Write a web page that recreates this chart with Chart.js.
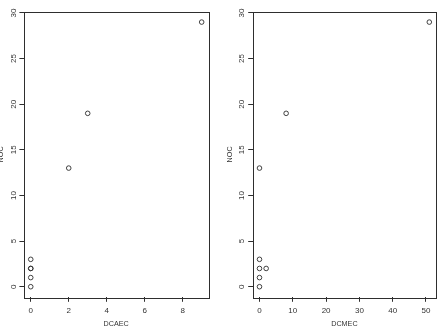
<!DOCTYPE html>
<html>
<head>
<meta charset="utf-8">
<script src="https://cdn.jsdelivr.net/npm/chart.js@4/dist/chart.umd.min.js"></script>
<style>
  html, body { margin: 0; padding: 0; background: #fff; }
  #wrap { position: relative; width: 441px; height: 327px; overflow: hidden; }
  canvas { position: absolute; top: 0; }
</style>
</head>
<body>
<div id="wrap">
  <canvas id="left" width="220" height="327" style="left:0"></canvas>
  <canvas id="right" width="221" height="327" style="left:220px"></canvas>
</div>
<script>
// datos
const noc   = [0, 1, 2, 3, 2, 13, 19, 29];
const dcaec = [0, 0, 0, 0, 0, 2, 3, 9];
const dcmec = [0, 0, 0, 0, 2, 0, 8, 51];

const yTicks      = [0, 5, 10, 15, 20, 25, 30];
const dcaecTicks  = [0, 2, 4, 6, 8];
const dcmecTicks  = [0, 10, 20, 30, 40, 50];

const ink = '#2e2e2e';
const fuente = 'Liberation Sans, Arial, Helvetica, sans-serif';

// rango al estilo R (4% a cada lado)
function rango(vals) {
  const lo = Math.min(...vals), hi = Math.max(...vals);
  const d = (hi - lo) * 0.04;
  return [lo - d, hi + d];
}

// caja alrededor del area del grafico
const caja = {
  id: 'caja',
  afterDraw(chart) {
    const a = chart.chartArea, ctx = chart.ctx;
    ctx.save();
    ctx.strokeStyle = ink;
    ctx.lineWidth = 1;
    ctx.strokeRect(Math.round(a.left) + 0.5, Math.round(a.top) + 0.5,
      Math.round(a.right - a.left), Math.round(a.bottom - a.top));
    ctx.restore();
  }
};

function dibujar(id, xs, xTicks, xTitulo, opts) {
  const [xmin, xmax] = rango(xs);
  const [ymin, ymax] = rango(noc);
  new Chart(document.getElementById(id), {
    type: 'scatter',
    data: {
      datasets: [{
        data: xs.map((x, i) => ({ x: x, y: noc[i] })),
        pointStyle: 'circle',
        pointRadius: 2.3,
        pointBorderWidth: 0.9,
        pointBackgroundColor: 'rgba(0,0,0,0)',
        pointBorderColor: ink
      }]
    },
    options: {
      responsive: false,
      animation: false,
      layout: { padding: { top: 11.5, right: opts.derecha, left: 0, bottom: 0 } },
      plugins: { legend: { display: false }, tooltip: { enabled: false } },
      scales: {
        x: {
          type: 'linear',
          min: xmin, max: xmax,
          afterBuildTicks: s => { s.ticks = xTicks.map(v => ({ value: v })); },
          afterFit: s => { s.height = 29.7; },
          border: { display: false },
          grid: { drawOnChartArea: false, drawTicks: true, tickLength: 4.5, color: ink, lineWidth: 1 },
          ticks: { autoSkip: false, maxRotation: 0, padding: 4, color: '#333', font: { family: fuente, size: 8 } },
          title: { display: true, text: xTitulo, color: '#333', padding: { top: 0, bottom: -1.1 }, font: { family: fuente, size: 7.2 } }
        },
        y: {
          type: 'linear',
          min: ymin, max: ymax,
          afterBuildTicks: s => { s.ticks = yTicks.map(v => ({ value: v })); },
          afterFit: s => { s.width = opts.izquierda; },
          border: { display: false },
          grid: { drawOnChartArea: false, drawTicks: true, tickLength: 4.5, color: ink, lineWidth: 1 },
          ticks: { autoSkip: false, minRotation: 90, maxRotation: 90, crossAlign: 'center', padding: 1.5, color: '#333', font: { family: fuente, size: 8 } },
          title: { display: true, text: 'NOC', color: '#333', padding: { top: opts.tituloY, bottom: 0 }, font: { family: fuente, size: 7.2 } }
        }
      }
    },
    plugins: [caja]
  });
}

dibujar('left', dcaec, dcaecTicks, 'DCAEC', { izquierda: 23.9, derecha: 11.5, tituloY: -3 });
dibujar('right', dcmec, dcmecTicks, 'DCMEC', { izquierda: 32.7, derecha: 3.5, tituloY: 5.8 });
</script>
</body>
</html>
